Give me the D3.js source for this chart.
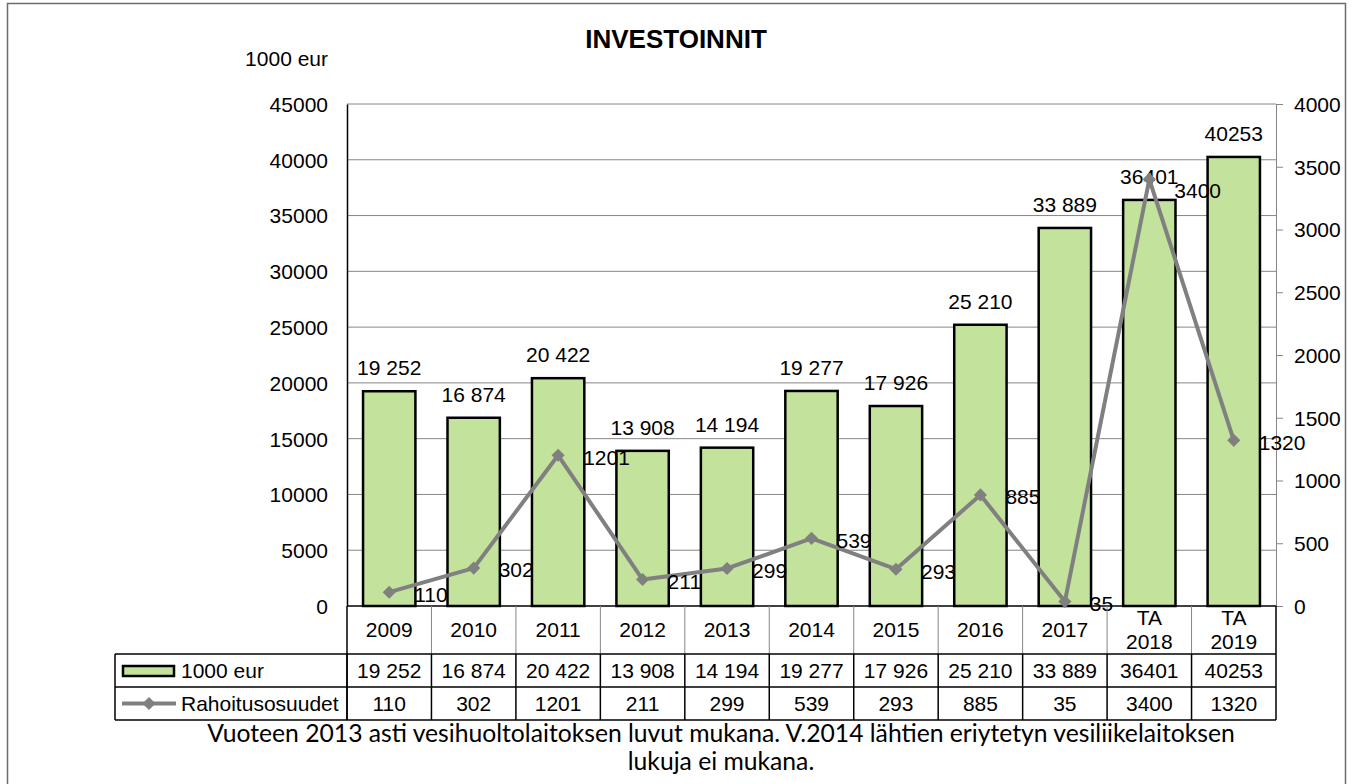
<!DOCTYPE html>
<html>
<head>
<meta charset="utf-8">
<script src="https://cdn.jsdelivr.net/npm/d3@7"></script>
<style>
  body { margin: 0; background: #fff; }
  text { font-family: "Liberation Sans", Arial, sans-serif; fill: #000; }
</style>
</head>
<body>
<div id="chart"></div>
<script>
// values
const categories = ["2009", "2010", "2011", "2012", "2013", "2014", "2015", "2016", "2017", "TA\n2018", "TA\n2019"];
const investments = [19252, 16874, 20422, 13908, 14194, 19277, 17926, 25210, 33889, 36401, 40253];
const investmentLabels = ["19 252", "16 874", "20 422", "13 908", "14 194", "19 277", "17 926", "25 210", "33 889", "36401", "40253"];
const funding = [110, 302, 1201, 211, 299, 539, 293, 885, 35, 3400, 1320];
const leftTicks = [0, 5000, 10000, 15000, 20000, 25000, 30000, 35000, 40000, 45000];
const rightTicks = [0, 500, 1000, 1500, 2000, 2500, 3000, 3500, 4000];

const width = 1357;
const height = 784;
const margin = { top: 104, right: 81, bottom: 178, left: 347 };

const barColor = "#c3e29b";
const lineColor = "#808080";
const gridColor = "#868686";
const fs = 21;

const svg = d3.select("#chart")
    .append("svg")
    .attr("width", width)
    .attr("height", height);

// outer frame
svg.append("rect")
    .attr("x", 7.5).attr("y", 3.5)
    .attr("width", 1338).attr("height", 820)
    .attr("fill", "none")
    .attr("stroke", "#6b6b6b")
    .attr("stroke-width", 1.5);

const x = d3.scaleBand()
    .domain(categories)
    .range([margin.left, width - margin.right])
    .paddingInner(0.38)
    .paddingOuter(0.19);

const y = d3.scaleLinear()
    .domain([0, 45000])
    .range([height - margin.bottom, margin.top]);

const y2 = d3.scaleLinear()
    .domain([0, 4000])
    .range([height - margin.bottom, margin.top]);

const x0 = margin.left, x1 = width - margin.right;
const yBase = y(0);
const step = x.step();

// title
svg.append("text")
    .attr("x", 676).attr("y", 48)
    .attr("text-anchor", "middle")
    .attr("font-size", 26)
    .attr("font-weight", "bold")
    .text("INVESTOINNIT");

svg.append("text")
    .attr("x", 328).attr("y", 66)
    .attr("text-anchor", "end")
    .attr("font-size", fs)
    .text("1000 eur");

// gridlines
svg.append("g")
    .selectAll("line")
    .data(leftTicks.filter(d => d > 0))
    .join("line")
        .attr("x1", x0).attr("x2", x1)
        .attr("y1", d => y(d)).attr("y2", d => y(d))
        .attr("stroke", gridColor)
        .attr("stroke-width", 1);

// left axis
const leftAxis = svg.append("g")
    .attr("transform", `translate(${x0}, 0)`)
    .call(d3.axisLeft(y).tickValues(leftTicks).tickSize(0).tickPadding(19).tickFormat(d3.format("d")));
leftAxis.select(".domain").attr("stroke", "#000").attr("stroke-width", 1.5);
leftAxis.selectAll("text").attr("font-size", fs).attr("font-family", "Liberation Sans, Arial, sans-serif").attr("dy", "0.35em");

// right axis
const rightAxis = svg.append("g")
    .attr("transform", `translate(${x1}, 0)`)
    .call(d3.axisRight(y2).tickValues(rightTicks).tickSize(7).tickSizeOuter(0).tickPadding(11).tickFormat(d3.format("d")));
rightAxis.selectAll(".domain, line").attr("stroke", gridColor).attr("stroke-width", 1);
rightAxis.selectAll("text").attr("font-size", fs).attr("font-family", "Liberation Sans, Arial, sans-serif").attr("dy", "0.35em");

// bars
svg.append("g")
    .selectAll("rect")
    .data(investments)
    .join("rect")
        .attr("x", (d, i) => x(categories[i]))
        .attr("y", d => y(d))
        .attr("width", x.bandwidth())
        .attr("height", d => yBase - y(d))
        .attr("fill", barColor)
        .attr("stroke", "#000")
        .attr("stroke-width", 2.5);

// bar value labels
svg.append("g")
    .selectAll("text")
    .data(investments)
    .join("text")
        .attr("x", (d, i) => x(categories[i]) + x.bandwidth() / 2)
        .attr("y", d => y(d) - 16)
        .attr("text-anchor", "middle")
        .attr("font-size", fs)
        .text((d, i) => investmentLabels[i]);

// x axis line
svg.append("line")
    .attr("x1", x0).attr("x2", x1)
    .attr("y1", yBase).attr("y2", yBase)
    .attr("stroke", "#000")
    .attr("stroke-width", 1.5);

// funding line
const cx = i => x(categories[i]) + x.bandwidth() / 2;
const line = d3.line()
    .x((d, i) => cx(i))
    .y(d => y2(d));

svg.append("path")
    .datum(funding)
    .attr("d", line)
    .attr("fill", "none")
    .attr("stroke", lineColor)
    .attr("stroke-width", 4)
    .attr("stroke-linejoin", "round");

const diamond = d3.symbol().type(d3.symbolDiamond2).size(110);
svg.append("g")
    .selectAll("path")
    .data(funding)
    .join("path")
        .attr("d", diamond)
        .attr("transform", (d, i) => `translate(${cx(i)}, ${y2(d)})`)
        .attr("fill", lineColor);

svg.append("g")
    .selectAll("text")
    .data(funding)
    .join("text")
        .attr("x", (d, i) => cx(i) + 25)
        .attr("y", d => y2(d) + (d > 3000 ? 11 : 2))
        .attr("dy", "0.35em")
        .attr("font-size", fs)
        .text(d => d);

// data table
const tLeft = 115;
const rowTop = [yBase, 654, 687, 720];

const table = svg.append("g");

// category row separators (gray)
table.selectAll("line.cat")
    .data(d3.range(1, categories.length))
    .join("line")
        .attr("class", "cat")
        .attr("x1", i => x0 + step * i).attr("x2", i => x0 + step * i)
        .attr("y1", rowTop[0]).attr("y2", rowTop[1])
        .attr("stroke", gridColor)
        .attr("stroke-width", 1);

table.append("line")
    .attr("x1", x1).attr("x2", x1)
    .attr("y1", rowTop[0]).attr("y2", rowTop[1])
    .attr("stroke", "#000").attr("stroke-width", 1.5);
table.append("line")
    .attr("x1", x0).attr("x2", x0)
    .attr("y1", rowTop[0]).attr("y2", rowTop[3])
    .attr("stroke", "#000").attr("stroke-width", 1.5);

// value rows grid (black)
table.selectAll("line.row")
    .data([1, 2, 3])
    .join("line")
        .attr("class", "row")
        .attr("x1", tLeft).attr("x2", x1)
        .attr("y1", r => rowTop[r]).attr("y2", r => rowTop[r])
        .attr("stroke", "#000").attr("stroke-width", 1.5);

table.selectAll("line.col")
    .data(d3.range(0, categories.length + 1))
    .join("line")
        .attr("class", "col")
        .attr("x1", i => x0 + step * i).attr("x2", i => x0 + step * i)
        .attr("y1", rowTop[1]).attr("y2", rowTop[3])
        .attr("stroke", "#000").attr("stroke-width", 1.5);

table.append("line")
    .attr("x1", tLeft).attr("x2", tLeft)
    .attr("y1", rowTop[1]).attr("y2", rowTop[3])
    .attr("stroke", "#000").attr("stroke-width", 1.5);

// category labels
table.selectAll("text.cat")
    .data(categories)
    .join("text")
        .attr("class", "cat")
        .attr("text-anchor", "middle")
        .attr("font-size", fs)
        .each(function(d) {
            const parts = d.split("\n");
            const mid = (rowTop[0] + rowTop[1]) / 2;
            const t = d3.select(this);
            parts.forEach((p, k) => {
                t.append("tspan")
                    .attr("x", x(d) + x.bandwidth() / 2)
                    .attr("y", mid + (k - (parts.length - 1) / 2) * 24)
                    .attr("dy", "0.35em")
                    .text(p);
            });
        });

table.selectAll("text.inv")
    .data(investmentLabels)
    .join("text")
        .attr("class", "inv")
        .attr("x", (d, i) => cx(i))
        .attr("y", (rowTop[1] + rowTop[2]) / 2)
        .attr("dy", "0.35em")
        .attr("text-anchor", "middle")
        .attr("font-size", fs)
        .text(d => d);

table.selectAll("text.fund")
    .data(funding)
    .join("text")
        .attr("class", "fund")
        .attr("x", (d, i) => cx(i))
        .attr("y", (rowTop[2] + rowTop[3]) / 2)
        .attr("dy", "0.35em")
        .attr("text-anchor", "middle")
        .attr("font-size", fs)
        .text(d => d);

// legend keys in table
table.append("rect")
    .attr("x", 123).attr("y", 666)
    .attr("width", 51).attr("height", 10)
    .attr("fill", barColor)
    .attr("stroke", "#000")
    .attr("stroke-width", 2.5);
table.append("text")
    .attr("x", 181).attr("y", (rowTop[1] + rowTop[2]) / 2)
    .attr("dy", "0.35em")
    .attr("font-size", fs)
    .text("1000 eur");

table.append("line")
    .attr("x1", 122).attr("x2", 176)
    .attr("y1", 703.5).attr("y2", 703.5)
    .attr("stroke", lineColor)
    .attr("stroke-width", 4);
table.append("path")
    .attr("d", diamond)
    .attr("transform", "translate(149, 703.5)")
    .attr("fill", lineColor);
table.append("text")
    .attr("x", 181).attr("y", (rowTop[2] + rowTop[3]) / 2)
    .attr("dy", "0.35em")
    .attr("font-size", fs)
    .text("Rahoitusosuudet");

// footnote, one text block with two lines
const notes = [
    "Vuoteen 2013 asti vesihuoltolaitoksen luvut mukana. V.2014 lähtien eriytetyn vesiliikelaitoksen",
    "lukuja ei mukana."
];
const note = svg.append("text")
    .attr("text-anchor", "middle")
    .style("font-family", "Lato, 'Open Sans', sans-serif")
    .attr("font-size", 22);
note.selectAll("tspan")
    .data(notes)
    .join("tspan")
        .attr("x", 721)
        .attr("y", (d, i) => 742 + i * 28)
        .text(d => d);
// fit the first line to its width in the reference
const w = note.select("tspan").node().getComputedTextLength();
note.attr("font-size", 22 * 1028 / w);
</script>
</body>
</html>
